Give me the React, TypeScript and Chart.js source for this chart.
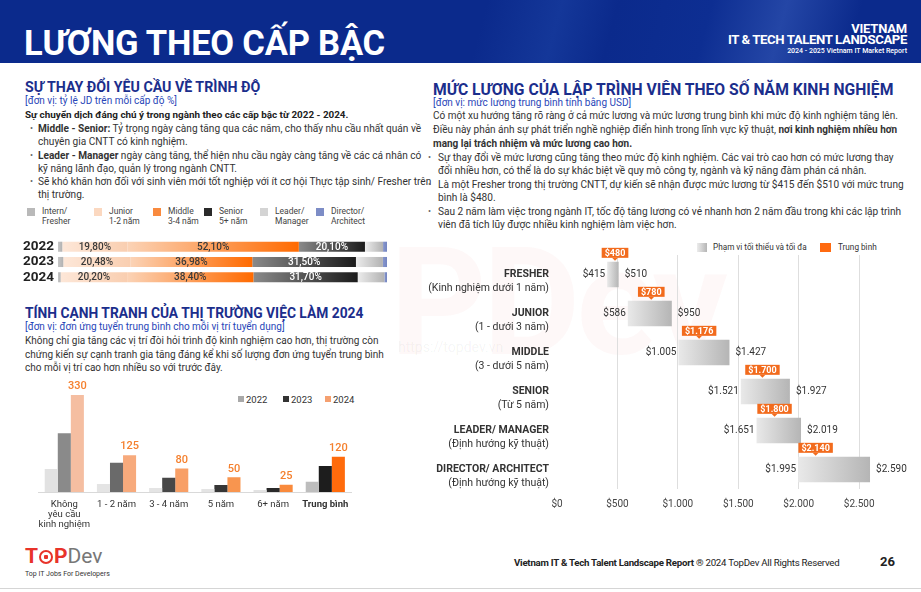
import React, { useEffect, useRef } from 'react';
import { Chart, registerables } from 'chart.js';

Chart.register(...registerables);

const FONT = 'Roboto, "Noto Sans", Arial, sans-serif';

// ---------- Chart 1: job-description share by level ----------
const shareYears = ['2022', '2023', '2024'];
const shareInternFresher = [1.3, 1.6, 0.8];
const shareJunior = [19.8, 20.48, 20.2];
const shareMiddle = [52.1, 36.98, 38.4];
const shareSenior = [20.1, 31.5, 31.7];
const shareLeaderManager = [5.5, 8.2, 8.1];
const shareDirectorArchitect = [1.2, 1.24, 0.8];
const shareLegend = [
  ['Intern/', 'Fresher'],
  ['Junior', '1-2 năm'],
  ['Middle', '3-4 năm'],
  ['Senior', '5+ năm'],
  ['Leader/', 'Manager'],
  ['Director/', 'Architect'],
];

// ---------- Chart 2: applicants per position ----------
const competitionCategories = [['Không', 'yêu cầu', 'kinh nghiệm'], '1 - 2 năm', '3 - 4 năm', '5 năm', '6+ năm', 'Trung bình'];
const competitionYears = ['2022', '2023', '2024'];
const applicants2022 = [78, 27, 14, 10, 7, 35];
const applicants2023 = [200, 99, 48, 24, 14, 88];
const applicants2024 = [330, 125, 80, 50, 25, 120];

// ---------- Chart 3: salary by experience ----------
const salaryLevels = ['FRESHER', 'JUNIOR', 'MIDDLE', 'SENIOR', 'LEADER/ MANAGER', 'DIRECTOR/ ARCHITECT'];
const salaryLevelNotes = [
  '(Kinh nghiệm dưới 1 năm)',
  '(1 - dưới 3 năm)',
  '(3 - dưới 5 năm)',
  '(Từ 5 năm)',
  '(Định hướng kỹ thuật)',
  '(Định hướng kỹ thuật)',
];
const salaryMin = [415, 586, 1005, 1521, 1651, 1995];
const salaryMax = [510, 950, 1427, 1927, 2019, 2590];
const salaryMean = [480, 780, 1176, 1700, 1800, 2140];
const salaryTicks = [0, 500, 1000, 1500, 2000, 2500];
const salaryLegend = ['Phạm vi tối thiểu và tối đa', 'Trung bình'];

const fmtNum = (v: number) => String(Math.round(v)).replace(/\B(?=(\d{3})+(?!\d))/g, '.');

// ---------- styles ----------
const shareColors = [
  ['#c6c6c6', '#b2b2b2'],
  ['#fde7d8', '#f9ceb0'],
  ['#fbd3b6', '#ff6a00'],
  ['#8a8a8a', '#1b1b1b'],
  ['#ececec', '#b2b2b2'],
  ['#8696cd', '#7485c0'],
];
const shareLegendSwatch = ['#b9b9b9', '#fbd8c0', '#f98a3e', '#2a2a2a', '#d4d4d4', '#7d8dc6'];

const comp2022Colors = ['#e2e2e2', '#e4e4e4', '#e4e4e4', '#e4e4e4', '#e2e2e2', '#bdbdbd'];
const comp2023Colors = ['#8a8a8a', '#6a6a6a', '#474747', '#363636', '#2a2a2a', '#1d1d1d'];
const comp2024Colors = ['#f5bea1', '#f7aa7c', '#f89f66', '#f8954f', '#f98a3c', '#ff6b0c'];

function stackGradient(colors: string[]) {
  return (c: any) => {
    const chart = c.chart;
    if (!chart.chartArea || c.type !== 'data' || !chart.scales.x) return colors[1];
    const xs = chart.scales.x;
    let start = 0;
    for (let d = 0; d < c.datasetIndex; d++) start += chart.data.datasets[d].data[c.dataIndex];
    const end = start + chart.data.datasets[c.datasetIndex].data[c.dataIndex];
    const x0 = xs.getPixelForValue(start);
    const x1 = xs.getPixelForValue(end);
    if (!isFinite(x0) || !isFinite(x1) || x1 - x0 < 1) return colors[1];
    const g = chart.ctx.createLinearGradient(x0, 0, x1, 0);
    g.addColorStop(0, colors[0]);
    g.addColorStop(1, colors[1]);
    return g;
  };
}

function rangeGradient(c: any) {
  const chart = c.chart;
  if (!chart.chartArea || c.type !== 'data' || !chart.scales.x) return '#cfcfcf';
  const xs = chart.scales.x;
  const x0 = xs.getPixelForValue(salaryMin[c.dataIndex]);
  const x1 = xs.getPixelForValue(salaryMax[c.dataIndex]);
  if (!isFinite(x0) || !isFinite(x1)) return '#cfcfcf';
  const g = chart.ctx.createLinearGradient(x0, 0, x1, 0);
  g.addColorStop(0, '#e9e9e9');
  g.addColorStop(1, '#b5b5b5');
  return g;
}

const shareLabelPlugin = {
  id: 'shareLabels',
  afterDatasetsDraw(chart: any) {
    const ctx = chart.ctx;
    ctx.save();
    ctx.font = `500 10px ${FONT}`;
    ctx.textAlign = 'center';
    ctx.textBaseline = 'middle';
    [1, 2, 3].forEach((di) => {
      const meta = chart.getDatasetMeta(di);
      meta.data.forEach((bar: any, i: number) => {
        const v = chart.data.datasets[di].data[i];
        ctx.fillStyle = di === 3 ? '#ffffff' : '#3a3a3a';
        ctx.fillText(v.toFixed(2).replace('.', ',') + '%', (bar.x + bar.base) / 2, bar.y + 0.5);
      });
    });
    ctx.restore();
  },
};

const compLabelPlugin = {
  id: 'compLabels',
  afterDatasetsDraw(chart: any) {
    const ctx = chart.ctx;
    ctx.save();
    ctx.font = `500 11px ${FONT}`;
    ctx.fillStyle = '#f5802e';
    ctx.textAlign = 'center';
    ctx.textBaseline = 'bottom';
    const meta = chart.getDatasetMeta(2);
    meta.data.forEach((bar: any, i: number) => {
      ctx.fillText(String(chart.data.datasets[2].data[i]), bar.x, bar.y - 3);
    });
    ctx.restore();
  },
};

const salaryLabelPlugin = {
  id: 'salaryLabels',
  afterDatasetsDraw(chart: any) {
    const ctx = chart.ctx;
    const xs = chart.scales.x;
    const meta = chart.getDatasetMeta(0);
    ctx.save();
    ctx.textBaseline = 'middle';
    meta.data.forEach((bar: any, i: number) => {
      const left = Math.min(bar.x, bar.base);
      const right = Math.max(bar.x, bar.base);
      const y = bar.y;
      // min / max labels
      ctx.font = `10px ${FONT}`;
      ctx.fillStyle = '#333';
      ctx.textAlign = 'right';
      ctx.fillText('$' + fmtNum(salaryMin[i]), left - 2, y);
      ctx.textAlign = 'left';
      ctx.fillText('$' + fmtNum(salaryMax[i]), right + 6, y);
      // mean marker
      const mx = xs.getPixelForValue(salaryMean[i]);
      const t = '$' + fmtNum(salaryMean[i]);
      ctx.font = `bold 9px ${FONT}`;
      const tw = ctx.measureText(t).width;
      const bw = tw + 6;
      const bh = 10;
      const top = y - bar.height / 2;
      const by = top - 4 - bh;
      ctx.fillStyle = '#f26b1d';
      ctx.fillRect(mx - bw / 2, by, bw, bh);
      ctx.beginPath();
      ctx.moveTo(mx - 3, by + bh);
      ctx.lineTo(mx + 3, by + bh);
      ctx.lineTo(mx, by + bh + 3);
      ctx.closePath();
      ctx.fill();
      ctx.fillStyle = '#fff';
      ctx.textAlign = 'center';
      ctx.fillText(t, mx, by + bh / 2 + 0.5);
      // category labels
      const lx = chart.chartArea.left - 8;
      ctx.textAlign = 'right';
      ctx.fillStyle = '#333';
      ctx.font = `bold 10.5px ${FONT}`;
      ctx.fillText(salaryLevels[i], lx, y);
      ctx.font = `10.5px ${FONT}`;
      ctx.fillText(salaryLevelNotes[i], lx, y + 13.5);
    });
    ctx.restore();
  },
};

function makeShareConfig(): any {
  const series = [shareInternFresher, shareJunior, shareMiddle, shareSenior, shareLeaderManager, shareDirectorArchitect];
  return {
    type: 'bar',
    data: {
      labels: shareYears,
      datasets: series.map((data, k) => ({
        label: shareLegend[k].join(' '),
        data,
        backgroundColor: stackGradient(shareColors[k]),
        borderWidth: 0,
        barPercentage: 0.66,
        categoryPercentage: 1,
      })),
    },
    options: {
      indexAxis: 'y',
      animation: false,
      responsive: false,
      devicePixelRatio: 1,
      layout: { padding: { left: 0, right: 3, top: 0, bottom: 0 } },
      plugins: { legend: { display: false }, tooltip: { enabled: false } },
      scales: {
        x: { stacked: true, min: 0, max: 100, display: false },
        y: {
          stacked: true,
          grid: { display: false, drawTicks: false },
          border: { display: false },
          ticks: { color: '#222', padding: 4, font: { family: FONT, size: 13.5, weight: 'bold' } },
          afterFit: (s: any) => { s.width = 38; },
        },
      },
    },
    plugins: [shareLabelPlugin],
  };
}

function makeCompConfig(): any {
  const series = [applicants2022, applicants2023, applicants2024];
  const colors = [comp2022Colors, comp2023Colors, comp2024Colors];
  return {
    type: 'bar',
    data: {
      labels: competitionCategories,
      datasets: series.map((data, k) => ({
        label: competitionYears[k],
        data,
        backgroundColor: colors[k],
        borderWidth: 0,
        barPercentage: 1,
        categoryPercentage: 0.75,
      })),
    },
    options: {
      animation: false,
      responsive: false,
      devicePixelRatio: 1,
      layout: { padding: { left: 7, right: 8.6, top: 19, bottom: 0 } },
      plugins: { legend: { display: false }, tooltip: { enabled: false } },
      scales: {
        y: { min: 0, max: 350, display: false },
        x: {
          grid: { display: false, drawTicks: false },
          border: { display: true, color: '#d9d9d9', width: 1 },
          ticks: {
            color: '#333',
            padding: 8,
            maxRotation: 0,
            autoSkip: false,
            font: (c: any) => ({ family: FONT, size: 9.5, lineHeight: 1.05, weight: c.index === 5 ? 'bold' : 'normal' }),
          },
          afterFit: (s: any) => { s.height = 43; },
        },
      },
    },
    plugins: [compLabelPlugin],
  };
}

function makeSalaryConfig(): any {
  return {
    type: 'bar',
    data: {
      labels: salaryLevels,
      datasets: [
        {
          label: salaryLegend[0],
          data: salaryMin.map((v, i) => [v, salaryMax[i]]),
          backgroundColor: rangeGradient,
          borderWidth: 0,
          barPercentage: 0.65,
          categoryPercentage: 1,
        },
      ],
    },
    options: {
      indexAxis: 'y',
      animation: false,
      responsive: false,
      devicePixelRatio: 1,
      layout: { padding: { left: 137, right: 14.6, top: 15, bottom: 0 } },
      plugins: { legend: { display: false }, tooltip: { enabled: false } },
      scales: {
        y: { display: false },
        x: {
          min: 0,
          max: 2800,
          grid: {
            drawTicks: false,
            color: (c: any) => (c.tick && c.tick.value === 0 ? 'rgba(0,0,0,0)' : '#dedede'),
          },
          border: { display: false },
          afterBuildTicks: (s: any) => { s.ticks = salaryTicks.map((value) => ({ value })); },
          ticks: {
            padding: 9,
            color: '#444',
            autoSkip: false,
            maxRotation: 0,
            font: { family: FONT, size: 10 },
            callback: (v: any) => '$' + fmtNum(Number(v)),
          },
          afterFit: (s: any) => { s.height = 31; },
        },
      },
    },
    plugins: [salaryLabelPlugin],
  };
}

function ChartCanvas({ make, left, top, width, height }: any) {
  const ref = useRef<HTMLCanvasElement | null>(null);
  useEffect(() => {
    if (!ref.current) return;
    const chart = new Chart(ref.current, make());
    return () => chart.destroy();
  }, []);
  return (
    <canvas
      ref={ref}
      width={width}
      height={height}
      style={{ position: 'absolute', left, top, width, height }}
    />
  );
}

function Line({ x, cy, size = 10.1, lh = 13, color = '#333', weight = 400, children, right, style }: any) {
  const pos: any = right !== undefined ? { right: 921 - right } : { left: x };
  return (
    <div
      style={{
        position: 'absolute',
        ...pos,
        top: cy - lh / 2,
        fontSize: size,
        lineHeight: lh + 'px',
        color,
        fontWeight: weight,
        whiteSpace: 'nowrap',
        ...style,
      }}
    >
      {children}
    </div>
  );
}

function Bullet({ x, cy }: any) {
  return <Line x={x} cy={cy} size={9} color="#666">•</Line>;
}

const NAVY = '#1b2e8c';
const SUB = '#2846b8';

export default function App() {
  return (
    <div
      style={{
        position: 'fixed',
        left: 0,
        top: 0,
        width: 921,
        height: 592,
        overflow: 'hidden',
        background: '#ffffff',
        fontFamily: FONT,
      }}
    >
      {/* header */}
      <div
        style={{
          position: 'absolute',
          left: 0,
          top: 0,
          width: 921,
          height: 63,
          background:
            'linear-gradient(105deg, #0b2a8c 0%, #0b2a8c 52%, #143799 60%, #0b2a8c 66%, #0d2e92 76%, #2446a6 84%, #0b2a8c 92%)',
        }}
      />
      <Line x={24} cy={43} size={34.5} lh={42} color="#fff" weight={700} style={{ letterSpacing: -0.2 }}>
        LƯƠNG THEO CẤP BẬC
      </Line>
      <Line right={907} cy={28} size={13} lh={13} color="#fff" weight={700} style={{ letterSpacing: -0.2 }}>
        VIETNAM
      </Line>
      <Line right={907} cy={40} size={13.2} lh={14} color="#fff" weight={700} style={{ letterSpacing: -0.4 }}>
        IT &amp; TECH TALENT LANDSCAPE
      </Line>
      <Line right={907} cy={51.5} size={7} lh={9} color="#fff" weight={500}>
        2024 - 2025 Vietnam IT Market Report
      </Line>

      {/* watermark */}
      <div
        style={{
          position: 'absolute',
          left: 390,
          top: 215,
          fontSize: 150,
          fontWeight: 700,
          color: 'rgba(235,70,70,0.04)',
          letterSpacing: -4,
          whiteSpace: 'nowrap',
        }}
      >
        PDev
      </div>
      <Line x={398} cy={347} size={14} lh={16} color="rgba(0,0,0,0.05)">
        https://topdev.vn
      </Line>

      {/* left section 1 */}
      <Line x={25} cy={87} size={14.2} lh={16} color={NAVY} weight={700}>
        SỰ THAY ĐỔI YÊU CẦU VỀ TRÌNH ĐỘ
      </Line>
      <Line x={25} cy={100} size={10} color={SUB}>
        [đơn vị: tỷ lệ JD trên mỗi cấp độ %]
      </Line>
      <Line x={25} cy={114} size={9.9} color="#222" weight={700}>
        Sự chuyển dịch đáng chú ý trong ngành theo các cấp bậc từ 2022 - 2024.
      </Line>
      <Bullet x={30} cy={128} />
      <Line x={38} cy={128}>
        <b>Middle - Senior:</b> Tỷ trọng ngày càng tăng qua các năm, cho thấy nhu cầu nhất quán về
      </Line>
      <Line x={38} cy={141}>chuyên gia CNTT có kinh nghiệm.</Line>
      <Bullet x={30} cy={155} />
      <Line x={38} cy={155}>
        <b>Leader - Manager</b> ngày càng tăng, thể hiện nhu cầu ngày càng tăng về các cá nhân có
      </Line>
      <Line x={38} cy={168}>kỹ năng lãnh đạo, quản lý trong ngành CNTT.</Line>
      <Bullet x={30} cy={181} />
      <Line x={38} cy={181}>
        Sẽ khó khăn hơn đối với sinh viên mới tốt nghiệp với ít cơ hội Thực tập sinh/ Fresher trên
      </Line>
      <Line x={38} cy={194}>thị trường.</Line>

      {/* legend chart 1 */}
      {[27, 94, 153, 204, 260, 316].map((lx, k) => (
        <React.Fragment key={k}>
          <div style={{ position: 'absolute', left: lx, top: 208, width: 8, height: 8, background: shareLegendSwatch[k] }} />
          <Line x={lx + 15} cy={211} size={8.5} lh={10} color="#444">{shareLegend[k][0]}</Line>
          <Line x={lx + 15} cy={221} size={8.5} lh={10} color="#444">{shareLegend[k][1]}</Line>
        </React.Fragment>
      ))}

      <ChartCanvas make={makeShareConfig} left={20} top={227} width={370} height={70} />

      {/* left section 2 */}
      <Line x={25} cy={313} size={13.8} lh={16} color={NAVY} weight={700}>
        TÍNH CẠNH TRANH CỦA THỊ TRƯỜNG VIỆC LÀM 2024
      </Line>
      <Line x={25} cy={326} size={10} color={SUB}>
        [đơn vị: đơn ứng tuyển trung bình cho mỗi vị trí tuyển dụng]
      </Line>
      <Line x={25} cy={340} size={10}>
        Không chỉ gia tăng các vị trí đòi hỏi trình độ kinh nghiệm cao hơn, thị trường còn
      </Line>
      <Line x={25} cy={354} size={10}>
        chứng kiến sự cạnh tranh gia tăng đáng kể khi số lượng đơn ứng tuyển trung bình
      </Line>
      <Line x={25} cy={367} size={10}>
        cho mỗi vị trí cao hơn nhiều so với trước đây.
      </Line>

      {/* legend chart 2 */}
      {[238, 283, 325].map((lx, k) => (
        <React.Fragment key={k}>
          <div
            style={{
              position: 'absolute',
              left: lx,
              top: 396,
              width: 6,
              height: 6,
              background: ['#a9a9a9', '#333333', '#f5a070'][k],
            }}
          />
          <Line x={lx + 8} cy={399.5} size={9.5} color="#333">{competitionYears[k]}</Line>
        </React.Fragment>
      ))}

      <ChartCanvas make={makeCompConfig} left={30} top={370} width={330} height={165} />

      {/* right section */}
      <Line x={433} cy={89} size={15.7} lh={17} color={NAVY} weight={700}>
        MỨC LƯƠNG CỦA LẬP TRÌNH VIÊN THEO SỐ NĂM KINH NGHIỆM
      </Line>
      <Line x={433} cy={102} size={10} color={SUB}>
        [đơn vị: mức lương trung bình tính bằng USD]
      </Line>
      <Line x={433} cy={115} size={10}>
        Có một xu hướng tăng rõ ràng ở cả mức lương và mức lương trung bình khi mức độ kinh nghiệm tăng lên.
      </Line>
      <Line x={433} cy={129} size={10}>
        Điều này phản ánh sự phát triển nghề nghiệp điển hình trong lĩnh vực kỹ thuật, <b>nơi kinh nghiệm nhiều hơn</b>
      </Line>
      <Line x={433} cy={143} size={10}>
        <b>mang lại trách nhiệm và mức lương cao hơn.</b>
      </Line>
      <Bullet x={428} cy={157} />
      <Line x={438} cy={157} size={10.1}>
        Sự thay đổi về mức lương cũng tăng theo mức độ kinh nghiệm. Các vai trò cao hơn có mức lương thay
      </Line>
      <Line x={438} cy={170} size={10.1}>
        đổi nhiều hơn, có thể là do sự khác biệt về quy mô công ty, ngành và kỹ năng đàm phán cá nhân.
      </Line>
      <Bullet x={428} cy={184} />
      <Line x={438} cy={184} size={10.1}>
        Là một Fresher trong thị trường CNTT, dự kiến sẽ nhận được mức lương từ $415 đến $510 với mức trung
      </Line>
      <Line x={438} cy={197} size={10.1}>bình là $480.</Line>
      <Bullet x={428} cy={211} />
      <Line x={438} cy={211} size={10.1}>
        Sau 2 năm làm việc trong ngành IT, tốc độ tăng lương có vẻ nhanh hơn 2 năm đầu trong khi các lập trình
      </Line>
      <Line x={438} cy={224} size={10.1}>viên đã tích lũy được nhiều kinh nghiệm làm việc hơn.</Line>

      {/* legend chart 3 */}
      <div
        style={{
          position: 'absolute',
          left: 697,
          top: 243,
          width: 10,
          height: 9,
          background: 'linear-gradient(90deg, #ececec, #b5b5b5)',
        }}
      />
      <Line x={713} cy={247.5} size={8.2} color="#333">{salaryLegend[0]}</Line>
      <div style={{ position: 'absolute', left: 820, top: 243, width: 11, height: 9, background: '#ff6a10' }} />
      <Line x={838} cy={247.5} size={8.2} color="#333">{salaryLegend[1]}</Line>

      <ChartCanvas make={makeSalaryConfig} left={420} top={240} width={490} height={280} />

      {/* footer */}
      <div style={{ position: 'absolute', left: 25, top: 545, height: 22, whiteSpace: 'nowrap', fontSize: 21, lineHeight: '22px' }}>
        <span style={{ color: '#e8332a', fontWeight: 700 }}>T</span>
        <span
          style={{
            display: 'inline-block',
            width: 14,
            height: 14,
            borderRadius: 8,
            border: '2px solid #e8332a',
            boxSizing: 'border-box',
            margin: '0 1px',
            verticalAlign: -1,
            background: 'radial-gradient(circle, #e8332a 0 2px, #fff 2.5px)',
          }}
        />
        <span style={{ color: '#e8332a', fontWeight: 700 }}>P</span>
        <span style={{ color: '#777', fontWeight: 400 }}>Dev</span>
      </div>
      <Line x={25} cy={574} size={7} lh={9} color="#333">Top IT Jobs For Developers</Line>
      <Line x={514} cy={562} size={9.7} lh={11} color="#222" style={{ letterSpacing: -0.25 }}>
        <b>Vietnam IT &amp; Tech Talent Landscape Report</b> ® 2024 TopDev All Rights Reserved
      </Line>
      <Line x={880} cy={561} size={13} lh={15} color="#222" weight={700}>26</Line>
      <div style={{ position: 'absolute', left: 0, top: 588, width: 921, height: 1, background: '#d5d5d5' }} />
    </div>
  );
}
